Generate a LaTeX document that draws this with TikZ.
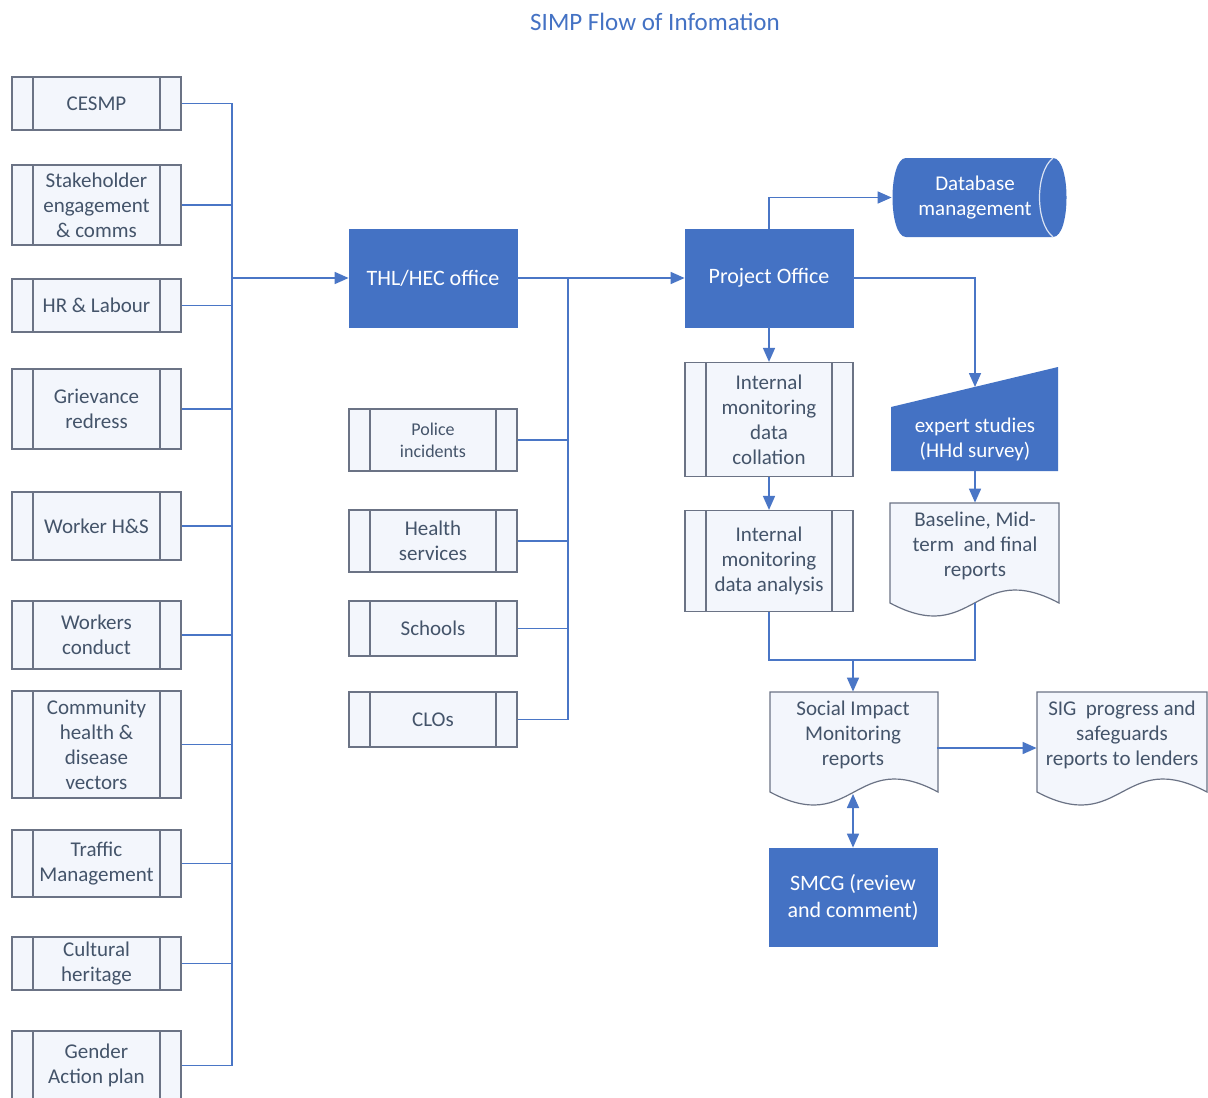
\documentclass[tikz,border=0pt]{standalone}
\usepackage{fontspec}
\setmainfont{Carlito}
\usetikzlibrary{arrows.meta,calc}
\definecolor{obl}{HTML}{4472C4}
\definecolor{lnc}{HTML}{4A76C6}
\definecolor{edg}{HTML}{6B7385}
\definecolor{txt}{HTML}{44546A}
\definecolor{lfill}{HTML}{F3F6FC}
\tikzset{
  pbox/.style={draw=edg, fill=lfill, line width=0.6pt, minimum width=84.5pt,
    text=txt, align=center, inner sep=1pt,
    path picture={
      \draw[edg,line width=0.6pt] ([xshift=10.5pt]path picture bounding box.north west) -- ([xshift=10.5pt]path picture bounding box.south west);
      \draw[edg,line width=0.6pt] ([xshift=-10.5pt]path picture bounding box.north east) -- ([xshift=-10.5pt]path picture bounding box.south east);}},
  bbox/.style={fill=obl, draw=obl, text=white, minimum width=84pt, minimum height=49pt, align=center, font=\fontsize{11}{13.5}\selectfont},
  tnode/.style={align=center, inner sep=1pt},
  docshape/.style={draw=edg, fill=lfill, line width=0.6pt},
  conn/.style={draw=lnc, line width=0.8pt},
  arr/.style={conn, -{Triangle[length=7pt,width=6pt]}},
  darr/.style={conn, {Triangle[length=7pt,width=6pt]}-{Triangle[length=7pt,width=6pt]}}
}
\begin{document}
\begin{tikzpicture}[x=0.5pt,y=-0.5pt, font=\fontsize{10.5}{12.5}\selectfont]
\useasboundingbox (0,0) rectangle (1208,1097);
\fill[white] (0,0) rectangle (1208,1097);
\clip (0,0) rectangle (1208,1097);

% title
\node[font=\fontsize{12.5}{15}\selectfont, text=obl] (title) at (655,22) {SIMP Flow of Infomation};

% left column
\node[pbox, minimum height=26.5pt] (cesmp) at (96.5,103.5) {CESMP};
\node[pbox, minimum height=40pt] (stake) at (96.5,205) {Stakeholder\\engagement\\\& comms};
\node[pbox, minimum height=26.5pt] (hr) at (96.5,305.5) {HR \& Labour};
\node[pbox, minimum height=40pt] (griev) at (96.5,409) {Grievance\\redress};
\node[pbox, minimum height=34pt] (whs) at (96.5,526) {Worker H\&S};
\node[pbox, minimum height=34pt] (wcon) at (96.5,635) {Workers\\conduct};
\node[pbox, minimum height=53.5pt] (comm) at (96.5,744.5) {Community\\health \&\\disease\\vectors};
\node[pbox, minimum height=33.5pt] (traf) at (96.5,863.5) {Traffic\\Management};
\node[pbox, minimum height=26.5pt] (cult) at (96.5,963.5) {Cultural\\heritage};
\node[pbox, minimum height=34.5pt] (gend) at (96.5,1065.5) {Gender\\Action plan};

\coordinate (bt) at (232,103.5);
\coordinate (bb) at (232,1065.5);
\draw[conn] (cesmp.east) -- (bt) -- (bb) -- (gend.east);
\foreach \n in {stake,hr,griev,whs,wcon,comm,traf,cult}{
  \draw[conn] (\n.east) -- (\n.east -| bt);
}

% offices
\node[bbox] (thl) at (433,278) {THL/HEC office};
\node[bbox] (po) at (769,278) {Project Office};
\draw[arr] (thl.west -| bt) -- (thl.west);
\draw[arr] (thl.east) -- (po.west);

% middle column
\node[pbox, minimum width=84pt, minimum height=31pt, font=\fontsize{9}{11}\selectfont] (pol) at (433,440) {Police\\incidents};
\node[pbox, minimum width=84pt, minimum height=31pt] (hlth) at (433,541) {Health\\services};
\node[pbox, minimum width=84pt, minimum height=27.5pt] (sch) at (433,628.5) {Schools};
\node[pbox, minimum width=84pt, minimum height=27.5pt] (clo) at (433,719.5) {CLOs};
\coordinate (mb) at (568,278);
\draw[conn] (mb) |- (clo.east);
\foreach \n in {pol,hlth,sch}{
  \draw[conn] (\n.east) -- (\n.east -| mb);
}

% database
\fill[obl] (906,158) -- (1053,158) .. controls (1071,158) and (1071,237) .. (1053,237)
  -- (906,237) .. controls (888,237) and (888,158) .. (906,158) -- cycle;
\draw[white!80!obl, line width=0.6pt] (1053,158) .. controls (1035,172) and (1035,223) .. (1053,237);
\node[tnode, text=white, minimum width=83pt, minimum height=39.5pt] (db) at (975,197.5) {Database\\management};
\draw[arr] (po.north) |- (db.west);

% expert studies
\fill[obl] (891,407) -- (1058,367) -- (1058,471) -- (891,471) -- cycle;
\node[tnode, text=white, minimum width=83.5pt, minimum height=32pt] (exp) at (975,439) {expert studies\\(HHd survey)};
\coordinate (expin) at (975,387);
\draw[arr] (po.east) -| (expin);

% baseline document
\draw[docshape] (890,503) -- (1059,503) -- (1059,603)
  .. controls (974.5,558) and (974.5,648) .. (890,603) -- cycle;
\node[tnode, text=txt, minimum width=84pt, minimum height=43pt] (base) at (975,546) {Baseline, Mid-\\term\ \ and final\\reports};
\coordinate (basebot) at (975,603);
\draw[arr] (exp.south) -- (base.north);

% internal monitoring
\node[pbox, minimum width=84pt, minimum height=57pt] (col) at (769,419.5) {Internal\\monitoring\\data\\collation};
\node[pbox, minimum width=84pt, minimum height=50.5pt] (ana) at (769,561) {Internal\\monitoring\\data analysis};
\draw[arr] (po.south) -- (col.north);
\draw[arr] (col.south) -- (ana.north);

% social impact document
\draw[docshape] (770,692) -- (938,692) -- (938,792)
  .. controls (854,747) and (854,837) .. (770,792) -- cycle;
\node[tnode, text=txt, minimum width=84pt, minimum height=43pt] (sim) at (853,735) {Social Impact\\Monitoring\\reports};
\coordinate (simbot) at (853,794);

% SIG document
\draw[docshape] (1037,692) -- (1207,692) -- (1207,792)
  .. controls (1122,747) and (1122,837) .. (1037,792) -- cycle;
\node[tnode, text=txt, minimum width=85pt, minimum height=43pt] (sig) at (1122,735) {SIG\ \ progress and\\safeguards\\reports to lenders};

\coordinate (mj) at (853,660);
\draw[conn] (ana.south) |- (mj);
\draw[conn] (basebot) |- (mj);
\draw[arr] (mj) -- (sim.north);
\draw[arr] ($(sim.east)+(0,13)$) -- ($(sig.west)+(0,13)$);

% SMCG
\node[bbox] (smcg) at (853,897) {SMCG (review\\and comment)};
\draw[darr] (simbot) -- (smcg.north);
\end{tikzpicture}
\end{document}
